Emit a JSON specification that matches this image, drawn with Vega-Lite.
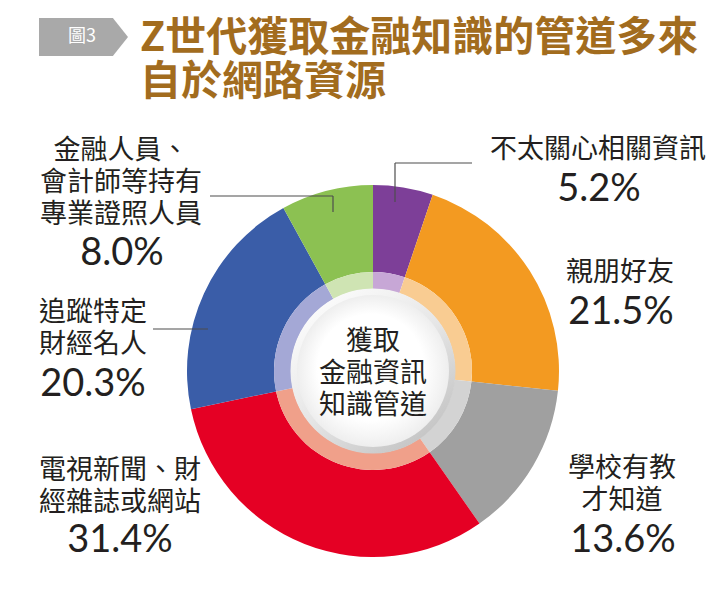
{
  "$schema": "https://vega.github.io/schema/vega-lite/v6.json",
  "width": 726,
  "height": 598,
  "autosize": {"type": "none"},
  "padding": 0,
  "background": "#ffffff",
  "datasets": {
    "share": [
      {"channel": "不太關心相關資訊", "lines": ["不太關心相關資訊"], "share": 0.052},
      {"channel": "親朋好友", "lines": ["親朋好友"], "share": 0.215},
      {"channel": "學校有教才知道", "lines": ["學校有教", "才知道"], "share": 0.136},
      {"channel": "電視新聞、財經雜誌或網站", "lines": ["電視新聞、財", "經雜誌或網站"], "share": 0.314},
      {"channel": "追蹤特定財經名人", "lines": ["追蹤特定", "財經名人"], "share": 0.203},
      {"channel": "金融人員、會計師等持有專業證照人員", "lines": ["金融人員、", "會計師等持有", "專業證照人員"], "share": 0.080}
    ]
  },
  "layer": [
    {
      "data": {"name": "share"},
      "transform": [{"window": [{"op": "row_number", "as": "seq"}]}],
      "mark": {"type": "arc", "outerRadius": 186, "innerRadius": 99},
      "encoding": {
        "x": {"datum": 0, "scale": {"domain": [-373, 353], "nice": false, "zero": false}},
        "y": {"datum": 0, "scale": {"domain": [-227, 371], "nice": false, "zero": false}},
        "theta": {"field": "share", "type": "quantitative", "stack": true},
        "order": {"field": "seq", "type": "quantitative"},
        "color": {
          "field": "channel",
          "type": "nominal",
          "scale": {
            "domain": ["不太關心相關資訊", "親朋好友", "學校有教才知道", "電視新聞、財經雜誌或網站", "追蹤特定財經名人", "金融人員、會計師等持有專業證照人員"],
            "range": ["#7d3f98", "#f39a21", "#a0a0a0", "#e50024", "#3a5da8", "#8cc152"]
          }
        }
      }
    },
    {
      "data": {"name": "share"},
      "transform": [{"window": [{"op": "row_number", "as": "seq"}]}],
      "mark": {"type": "arc", "outerRadius": 99, "innerRadius": 82},
      "encoding": {
        "x": {"datum": 0},
        "y": {"datum": 0},
        "theta": {"field": "share", "type": "quantitative", "stack": true},
        "order": {"field": "seq", "type": "quantitative"},
        "fill": {
          "field": "channel",
          "type": "nominal",
          "scale": {
            "domain": ["不太關心相關資訊", "親朋好友", "學校有教才知道", "電視新聞、財經雜誌或網站", "追蹤特定財經名人", "金融人員、會計師等持有專業證照人員"],
            "range": ["#c7a7d6", "#f9cc92", "#d3d3d3", "#f0a08a", "#a4a8d6", "#cfe4b3"]
          }
        }
      }
    },
    {
      "data": {"values": [{}]},
      "mark": {
        "type": "point", "shape": "circle", "filled": true, "size": 27225, "strokeWidth": 0, "opacity": 1,
        "fill": {"gradient": "linear", "x1": 0.15, "y1": 0.1, "x2": 0.8, "y2": 0.95,
          "stops": [{"offset": 0, "color": "#fbfbfb"}, {"offset": 0.5, "color": "#e6e6e6"}, {"offset": 1, "color": "#c4c4c4"}]}
      },
      "encoding": {"x": {"datum": 0}, "y": {"datum": 0}}
    },
    {
      "data": {"values": [{}]},
      "mark": {
        "type": "point", "shape": "circle", "filled": true, "size": 23104, "strokeWidth": 0, "opacity": 1,
        "fill": {"gradient": "radial", "x1": 0.45, "y1": 0.42, "r1": 0, "x2": 0.5, "y2": 0.5, "r2": 0.5,
          "stops": [{"offset": 0, "color": "#ffffff"}, {"offset": 0.7, "color": "#ffffff"}, {"offset": 1, "color": "#eeeeee"}]}
      },
      "encoding": {"x": {"datum": 0}, "y": {"datum": 0}}
    },
    {
      "data": {"values": [{}]},
      "mark": {"type": "text", "align": "center", "baseline": "middle"},
      "encoding": {"x": {"datum": 0}, "y": {"datum": 29}, "text": {"value": ["獲取", "金融資訊", "知識管道"]}}
    },
    {
      "data": {"values": [{}]},
      "mark": {"type": "rule", "color": "#4d4d4d", "strokeWidth": 1.2},
      "encoding": {"x": {"datum": 22}, "x2": {"datum": 99}, "y": {"datum": 208}}
    },
    {
      "data": {"values": [{}]},
      "mark": {"type": "rule", "color": "#4d4d4d", "strokeWidth": 1.2},
      "encoding": {"x": {"datum": 22}, "y": {"datum": 208}, "y2": {"datum": 169}}
    },
    {
      "data": {"values": [{}]},
      "mark": {"type": "rule", "color": "#4d4d4d", "strokeWidth": 1.2},
      "encoding": {"x": {"datum": -163}, "x2": {"datum": -40}, "y": {"datum": 175}}
    },
    {
      "data": {"values": [{}]},
      "mark": {"type": "rule", "color": "#4d4d4d", "strokeWidth": 1.2},
      "encoding": {"x": {"datum": -40}, "y": {"datum": 175}, "y2": {"datum": 159}}
    },
    {
      "data": {"values": [{}]},
      "mark": {"type": "rule", "color": "#4d4d4d", "strokeWidth": 1.2},
      "encoding": {"x": {"datum": -220}, "x2": {"datum": -165}, "y": {"datum": 42}}
    },
    {
      "data": {"name": "share"},
      "transform": [{"filter": "datum.channel == '金融人員、會計師等持有專業證照人員'"}],
      "mark": {"type": "text", "align": "center", "baseline": "middle"},
      "encoding": {"x": {"datum": -252}, "y": {"datum": 220}, "text": {"field": "lines", "type": "nominal"}}
    },
    {
      "data": {"name": "share"},
      "transform": [{"filter": "datum.channel == '金融人員、會計師等持有專業證照人員'"}],
      "mark": {"type": "text", "align": "center", "baseline": "middle", "font": "Lato", "fontSize": 38},
      "encoding": {"x": {"datum": -251}, "y": {"datum": 117}, "text": {"field": "share", "type": "quantitative", "format": ".1%"}}
    },
    {
      "data": {"name": "share"},
      "transform": [{"filter": "datum.channel == '追蹤特定財經名人'"}],
      "mark": {"type": "text", "align": "center", "baseline": "middle"},
      "encoding": {"x": {"datum": -280}, "y": {"datum": 58}, "text": {"field": "lines", "type": "nominal"}}
    },
    {
      "data": {"name": "share"},
      "transform": [{"filter": "datum.channel == '追蹤特定財經名人'"}],
      "mark": {"type": "text", "align": "center", "baseline": "middle", "font": "Lato", "fontSize": 38},
      "encoding": {"x": {"datum": -280}, "y": {"datum": -14}, "text": {"field": "share", "type": "quantitative", "format": ".1%"}}
    },
    {
      "data": {"name": "share"},
      "transform": [{"filter": "datum.channel == '電視新聞、財經雜誌或網站'"}],
      "mark": {"type": "text", "align": "center", "baseline": "middle"},
      "encoding": {"x": {"datum": -253}, "y": {"datum": -100}, "text": {"field": "lines", "type": "nominal"}}
    },
    {
      "data": {"name": "share"},
      "transform": [{"filter": "datum.channel == '電視新聞、財經雜誌或網站'"}],
      "mark": {"type": "text", "align": "center", "baseline": "middle", "font": "Lato", "fontSize": 38},
      "encoding": {"x": {"datum": -253}, "y": {"datum": -170}, "text": {"field": "share", "type": "quantitative", "format": ".1%"}}
    },
    {
      "data": {"name": "share"},
      "transform": [{"filter": "datum.channel == '不太關心相關資訊'"}],
      "mark": {"type": "text", "align": "center", "baseline": "middle"},
      "encoding": {"x": {"datum": 225}, "y": {"datum": 221}, "text": {"field": "lines", "type": "nominal"}}
    },
    {
      "data": {"name": "share"},
      "transform": [{"filter": "datum.channel == '不太關心相關資訊'"}],
      "mark": {"type": "text", "align": "center", "baseline": "middle", "font": "Lato", "fontSize": 38},
      "encoding": {"x": {"datum": 226}, "y": {"datum": 181}, "text": {"field": "share", "type": "quantitative", "format": ".1%"}}
    },
    {
      "data": {"name": "share"},
      "transform": [{"filter": "datum.channel == '親朋好友'"}],
      "mark": {"type": "text", "align": "center", "baseline": "middle"},
      "encoding": {"x": {"datum": 247}, "y": {"datum": 98}, "text": {"field": "lines", "type": "nominal"}}
    },
    {
      "data": {"name": "share"},
      "transform": [{"filter": "datum.channel == '親朋好友'"}],
      "mark": {"type": "text", "align": "center", "baseline": "middle", "font": "Lato", "fontSize": 38},
      "encoding": {"x": {"datum": 248}, "y": {"datum": 58}, "text": {"field": "share", "type": "quantitative", "format": ".1%"}}
    },
    {
      "data": {"name": "share"},
      "transform": [{"filter": "datum.channel == '學校有教才知道'"}],
      "mark": {"type": "text", "align": "center", "baseline": "middle"},
      "encoding": {"x": {"datum": 249}, "y": {"datum": -98}, "text": {"field": "lines", "type": "nominal"}}
    },
    {
      "data": {"name": "share"},
      "transform": [{"filter": "datum.channel == '學校有教才知道'"}],
      "mark": {"type": "text", "align": "center", "baseline": "middle", "font": "Lato", "fontSize": 38},
      "encoding": {"x": {"datum": 250}, "y": {"datum": -170}, "text": {"field": "share", "type": "quantitative", "format": ".1%"}}
    },
    {
      "data": {"values": [{}]},
      "mark": {"type": "point", "shape": "M-1,-0.427L0.66,-0.427L1,0L0.66,0.427L-1,0.427Z", "filled": true, "size": 7921, "color": "#a9a9a9", "strokeWidth": 0, "opacity": 1},
      "encoding": {"x": {"datum": -289.5}, "y": {"datum": 334}}
    },
    {
      "data": {"values": [{}]},
      "mark": {"type": "text", "align": "center", "baseline": "middle", "fontSize": 18, "color": "#ffffff"},
      "encoding": {"x": {"datum": -291}, "y": {"datum": 334}, "text": {"value": "圖3"}}
    },
    {
      "data": {"values": [{}]},
      "mark": {"type": "text", "align": "left", "baseline": "middle", "fontSize": 41, "lineHeight": 44, "fontWeight": "bold", "color": "#a26c1e"},
      "encoding": {"x": {"datum": -233}, "y": {"datum": 332}, "text": {"value": ["Z世代獲取金融知識的管道多來", "自於網路資源"]}}
    }
  ],
  "config": {
    "view": {"stroke": null},
    "axis": {"disable": true},
    "legend": {"disable": true},
    "text": {"font": "Noto Sans CJK TC", "fontSize": 27, "lineHeight": 32, "color": "#231f20"}
  }
}
